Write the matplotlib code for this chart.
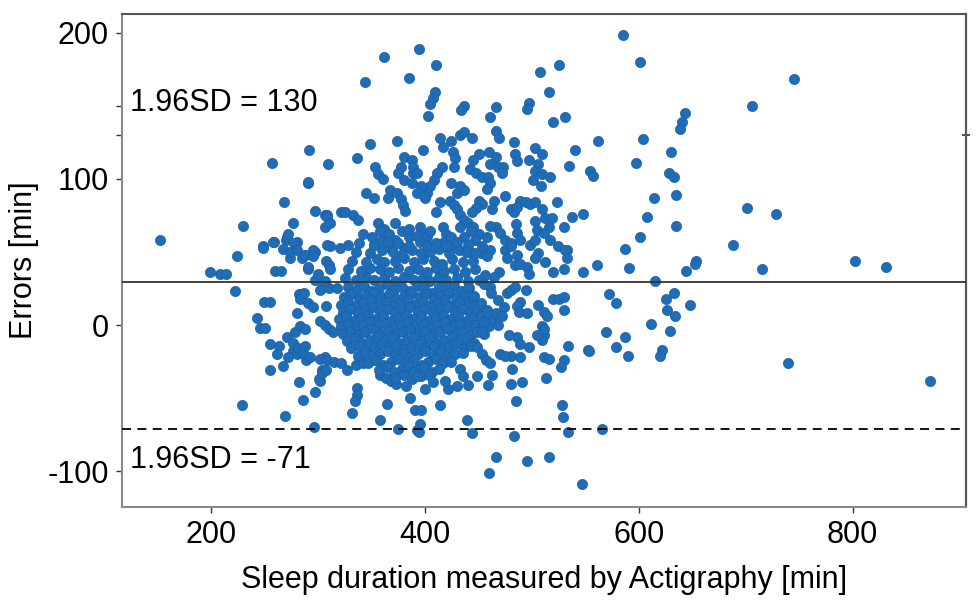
import matplotlib.pyplot as plt

plt.rcParams['font.family'] = ['Liberation Sans', 'DejaVu Sans']
plt.rcParams['axes.unicode_minus'] = False

# Bland-Altman style data: (sleep duration by actigraphy [min], error [min])
# sparse points on the left / lower side
left_pts = [
    (152, 58), (199, 36), (208, 35), (214, 35), (222, 23), (224, 47), (230, 68), (229, -55),
    (243, 5), (246, -2), (250, -2), (249, 16), (255, 16), (248, 54), (255, -13), (255, -31),
    (259, 57), (260, 37), (265, 37), (263, -14), (261, -20), (267, -28), (268, 84), (269, -62),
    (270, 58), (271, 60), (267, 52), (274, 46), (276, 70), (280, 57), (282, -39), (286, -51),
    (280, 8), (282, 21), (285, 21), (290, 97), (297, 78), (285, 46), (288, 48), (290, 38),
    (295, 50), (297, 50), (297, 31), (304, 25), (307, 13), (276, -18), (272, -22), (280, -20),
    (289, -24), (304, -31), (302, -38), (297, -46), (306, -22), (306, 75), (308, 75), (306, 67),
    (308, 55), (307, 44), (310, 41), (257, 111), (291, 120), (309, 110), (290, 98), (296, -70),
    (301, -37), (304, -33), (307, -31), (272, 62), (277, 56), (258, 57), (248, 53), (295, 51),
    (283, 18), (290, 15), (295, 12), (287, 22), (302, 24), (310, 25), (318, 25),
    (290, 40), (300, 35), (306, 30), (311, 38), (274, 50), (280, 51), (288, 48), (295, 47),
    (311, 54), (320, 53), (328, 55), (271, -8), (276, -12), (281, -16), (286, -19), (292, -22),
    (278, -5), (288, -14), (283, -1), (288, -3), (302, 3), (306, 0), (310, -3), (314, -5),
    (302, -23), (308, -24), (315, -25), (321, -26), (327, -31), (335, -27), (342, -26), (352, -24),
    (336, -43), (336, -48), (334, -52), (332, -60), (358, -65), (364, -54), (375, -71), (382, -42),
    (386, -50), (391, -58), (392, -72), (358, -34), (363, -36), (368, -38), (373, -40),
    (396, -58), (395, -68), (394, -73), (414, -55), (439, -65), (444, -74), (483, -76),
    (485, -52), (460, -101), (466, -90), (495, -93), (516, -90), (547, -109), (528, -55),
    (529, -63), (534, -73), (565, -71),
]

# upper part of the cloud
upper_pts = [
    (362, 183), (394, 189), (344, 166), (385, 169), (336, 114), (348, 124), (374, 126),
    (353, 108), (356, 103), (361, 100), (345, 90), (352, 87), (367, 92), (365, 87), (380, 115),
    (377, 108), (375, 104), (380, 99), (388, 113), (389, 104), (374, 90), (377, 86), (379, 82),
    (381, 78), (308, 74), (311, 70), (321, 77), (325, 77), (333, 75), (337, 72),
    (356, 70), (362, 66), (366, 62), (360, 58), (352, 55), (372, 70), (378, 64), (372, 58),
    (385, 60), (368, 52), (380, 53), (410, 178), (409, 159), (407, 155), (405, 151), (403, 143),
    (436, 150), (434, 147), (466, 149), (461, 142), (507, 173), (525, 178), (516, 159), (497, 152),
    (495, 148), (520, 139), (531, 142), (562, 126), (540, 120), (535, 109), (554, 105), (557, 102),
    (398, 120), (466, 133), (469, 128), (483, 125), (414, 128), (424, 126), (433, 130), (436, 132),
    (444, 128), (417, 122), (426, 118), (428, 114), (450, 117), (460, 118), (466, 115), (461, 110),
    (468, 108), (473, 108), (472, 104), (484, 117), (486, 112), (497, 113), (503, 121), (509, 117),
    (506, 110), (503, 105), (501, 99), (509, 103), (517, 101), (508, 95), (523, 84), (537, 74),
    (548, 76), (530, 67), (509, 79), (512, 73), (503, 71), (505, 65), (519, 73), (516, 67),
    (489, 85), (494, 84), (498, 83), (503, 84), (480, 79), (483, 77), (486, 81), (475, 88),
    (464, 85), (485, 69), (463, 79), (466, 67), (470, 63), (475, 58), (498, 55), (533, 51),
    (445, 113), (442, 107), (448, 104), (453, 101), (459, 101), (461, 97), (458, 93), (427, 108),
    (450, 85), (453, 83), (448, 80), (444, 77), (433, 95), (424, 97), (430, 90), (436, 92),
    (416, 108), (411, 104), (408, 99), (405, 95), (402, 90), (400, 87), (389, 108), (392, 104),
    (388, 97), (396, 95), (392, 90), (399, 88), (423, 85), (427, 82), (430, 79), (433, 75),
    (436, 72), (410, 77), (414, 84), (417, 67), (420, 62), (418, 57), (426, 55), (424, 60),
    (395, 67), (398, 62), (402, 60), (405, 64), (440, 70), (445, 67), (450, 62), (458, 60),
    (461, 68), (447, 58), (443, 64), (433, 67), (436, 60), (486, 63), (489, 58), (480, 56),
    (511, 63), (517, 58), (503, 58), (524, 54),
    (325, 32), (335, 31), (345, 33), (352, 31), (362, 32), (372, 30), (380, 33), (390, 31),
    (398, 32), (405, 30), (413, 33), (420, 31), (430, 32), (440, 30), (450, 31),
    (328, 38), (340, 37), (348, 39), (358, 38), (366, 36), (375, 39), (385, 37), (393, 38),
    (402, 36), (410, 39), (418, 37), (427, 38), (437, 36), (447, 38),
    (332, 44), (345, 43), (355, 45), (362, 43), (372, 44), (380, 46), (390, 43), (398, 45),
    (408, 44), (416, 42), (425, 45), (435, 43), (445, 44),
    (335, 50), (348, 49), (360, 51), (370, 50), (378, 48), (388, 51), (396, 49), (405, 50),
    (413, 52), (422, 49), (432, 51), (442, 50), (452, 49),
    (338, 56), (352, 55), (365, 57), (375, 56), (385, 54), (395, 57), (402, 55), (410, 56),
    (420, 54), (430, 57), (440, 55), (342, 62), (350, 60), (358, 64), (385, 66), (392, 61),
]

# dense core of the cloud
core_pts = [
    (328, 26), (336, 24), (343, 27), (349, 23), (357, 25), (364, 28), (371, 24), (378, 26),
    (386, 23), (392, 27), (399, 25), (406, 22), (413, 26), (420, 24), (427, 27), (434, 23), (441, 25),
    (324, 19), (331, 21), (338, 18), (345, 20), (352, 22), (359, 19), (366, 21), (373, 18),
    (380, 20), (387, 22), (394, 19), (401, 21), (408, 18), (415, 20), (422, 22), (429, 19),
    (436, 20), (444, 18),
    (321, 14), (328, 16), (335, 13), (342, 15), (349, 17), (356, 14), (363, 16), (370, 13),
    (377, 15), (384, 17), (391, 14), (398, 16), (405, 13), (412, 15), (419, 17), (426, 14),
    (433, 16), (440, 13), (447, 15),
    (323, 9), (330, 11), (337, 8), (344, 10), (351, 12), (358, 9), (365, 11), (372, 8),
    (379, 10), (386, 12), (393, 9), (400, 11), (407, 8), (414, 10), (421, 12), (428, 9),
    (435, 11), (442, 8), (449, 10), (455, 9),
    (319, 4), (326, 6), (333, 3), (340, 5), (347, 7), (354, 4), (361, 6), (368, 3),
    (375, 5), (382, 7), (389, 4), (396, 6), (403, 3), (410, 5), (417, 7), (424, 4),
    (431, 6), (438, 3), (445, 5), (452, 6), (458, 4),
    (321, -1), (328, 1), (335, -2), (342, 0), (349, 2), (356, -1), (363, 1), (370, -2),
    (377, 0), (384, 2), (391, -1), (398, 1), (405, -2), (412, 0), (419, 2), (426, -1),
    (433, 1), (440, -2), (447, 0), (454, 1), (460, -1),
    (323, -6), (330, -4), (337, -7), (344, -5), (351, -3), (358, -6), (365, -4), (372, -7),
    (379, -5), (386, -3), (393, -6), (400, -4), (407, -7), (414, -5), (421, -3), (428, -6),
    (435, -4), (442, -7), (449, -5), (455, -6),
    (327, -11), (334, -9), (341, -12), (348, -10), (355, -8), (362, -11), (369, -9), (376, -12),
    (383, -10), (390, -8), (397, -11), (404, -9), (411, -12), (418, -10), (425, -8), (432, -11),
    (439, -9), (446, -12),
    (331, -16), (338, -14), (345, -17), (352, -15), (359, -13), (366, -16), (373, -14), (380, -17),
    (387, -15), (394, -13), (401, -16), (408, -14), (415, -17), (422, -15), (429, -13), (436, -16),
    (443, -14),
    (337, -21), (344, -19), (351, -22), (358, -20), (365, -18), (372, -21), (379, -19), (386, -22),
    (393, -20), (400, -18), (407, -21), (414, -19), (421, -22), (428, -20), (435, -19),
    (347, -26), (354, -24), (361, -27), (368, -25), (375, -23), (382, -26), (389, -24), (396, -27),
    (403, -25), (410, -23), (417, -26), (424, -25),
    (357, -31), (364, -29), (371, -32), (378, -30), (385, -28), (392, -31), (399, -29), (406, -32),
    (413, -30), (372, -36), (380, -34), (388, -37), (396, -35), (404, -34),
]

# right of the core
right_pts = [
    (531, 51), (533, 46), (520, 36), (530, 38), (548, 36), (561, 41), (512, 43), (506, 49),
    (503, 46), (495, 40), (497, 35), (486, 48), (484, 41), (489, 42), (475, 51), (477, 46),
    (480, 54), (461, 51), (458, 47), (453, 54), (447, 49), (438, 50), (469, 36), (464, 33),
    (461, 26), (456, 34), (477, 22), (480, 24), (484, 26), (494, 24), (489, 16), (486, 13),
    (488, 9), (495, 8), (506, 14), (511, 9), (514, 6), (520, 18), (525, 18), (530, 19),
    (530, 10), (509, -1), (511, -7), (509, -10), (534, -14), (552, -17), (497, -15), (486, -8),
    (489, -13), (478, -7), (511, -22), (516, -23), (530, -24), (527, -29), (470, -20), (480, -21),
    (489, -22), (481, -30), (480, -40), (491, -39), (463, -34), (459, -41), (449, -35), (440, -41),
    (430, -42), (421, -44), (419, -38), (433, -30), (435, -35), (407, -39), (400, -44), (389, -32),
    (392, -35), (513, -36), (505, -7), (511, -3),
    (440, 25), (446, 20), (452, 15), (458, 10), (463, 5), (468, 0), (455, 28), (462, 22),
    (468, 17), (474, 12), (461, 4), (466, 8), (472, 6), (453, -5), (455, 2), (458, 9),
    (449, -15), (453, -20), (457, -24), (461, -26), (475, -21),
    (585, 198), (601, 180), (706, 150), (643, 145), (640, 139), (638, 134), (604, 127), (597, 111),
    (630, 118), (628, 104), (633, 101), (635, 89), (614, 87), (701, 80), (608, 74), (635, 68),
    (601, 60), (587, 52), (688, 55), (653, 44), (745, 168), (728, 76), (591, 39), (615, 30),
    (644, 37), (652, 42), (715, 38), (802, 44), (831, 40), (572, 21), (579, 15), (625, 18),
    (633, 22), (648, 14), (626, 10), (634, 6), (611, 1), (629, -4), (569, -5), (587, -8),
    (579, -15), (590, -21), (622, -17), (620, -21), (739, -26), (872, -38), (553, -18),
]

mean_diff = 29.5
upper_loa = 130
lower_loa = -71

all_pts = left_pts + upper_pts + core_pts + right_pts
sleep = [p[0] for p in all_pts]
errors = [p[1] for p in all_pts]

fig = plt.figure(figsize=(9.76, 6.11), dpi=100)
ax = fig.add_axes([0.1245, 0.170, 0.8653, 0.8079])

ax.scatter(sleep, errors, s=54, color="#1f6db6", edgecolors="#1a5fa3",
           linewidths=0.5, zorder=2)

ax.axhline(mean_diff, color="#333333", lw=1.3, zorder=3)
ax.axhline(lower_loa, color="black", lw=1.3, linestyle=(0, (5, 3.5)), zorder=3)

ax.text(124, 152, "1.96SD = %d" % upper_loa, fontsize=22, va="center", ha="left")
ax.text(124, -92, "1.96SD = %d" % lower_loa, fontsize=22, va="center", ha="left")

ax.set_xlim(116, 906)
ax.set_ylim(-124.5, 213)
ax.set_xticks([200, 400, 600, 800])
ax.set_yticks([-100, 0, 100, 200])
ax.set_yticks([upper_loa, 150], minor=True)

ax.tick_params(axis="both", which="both", direction="out", length=4, width=1,
               colors="#333333", labelsize=22, labelcolor="black", pad=5)

sec = ax.secondary_yaxis("right")
sec.set_yticks([upper_loa])
sec.set_yticklabels([""])
sec.tick_params(direction="inout", length=6, width=1.2, colors="#333333")
sec.spines["right"].set_color("#555555")
sec.spines["right"].set_linewidth(1.5)

for side in ["left", "bottom"]:
    ax.spines[side].set_color("#8a8a8a")
    ax.spines[side].set_linewidth(1.5)
for side in ["top", "right"]:
    ax.spines[side].set_color("#555555")
    ax.spines[side].set_linewidth(1.5)

ax.set_xlabel("Sleep duration measured by Actigraphy [min]", fontsize=22, labelpad=11)
ax.set_ylabel("Errors [min]", fontsize=22, labelpad=6)

fig.savefig("out.png", dpi=100)
